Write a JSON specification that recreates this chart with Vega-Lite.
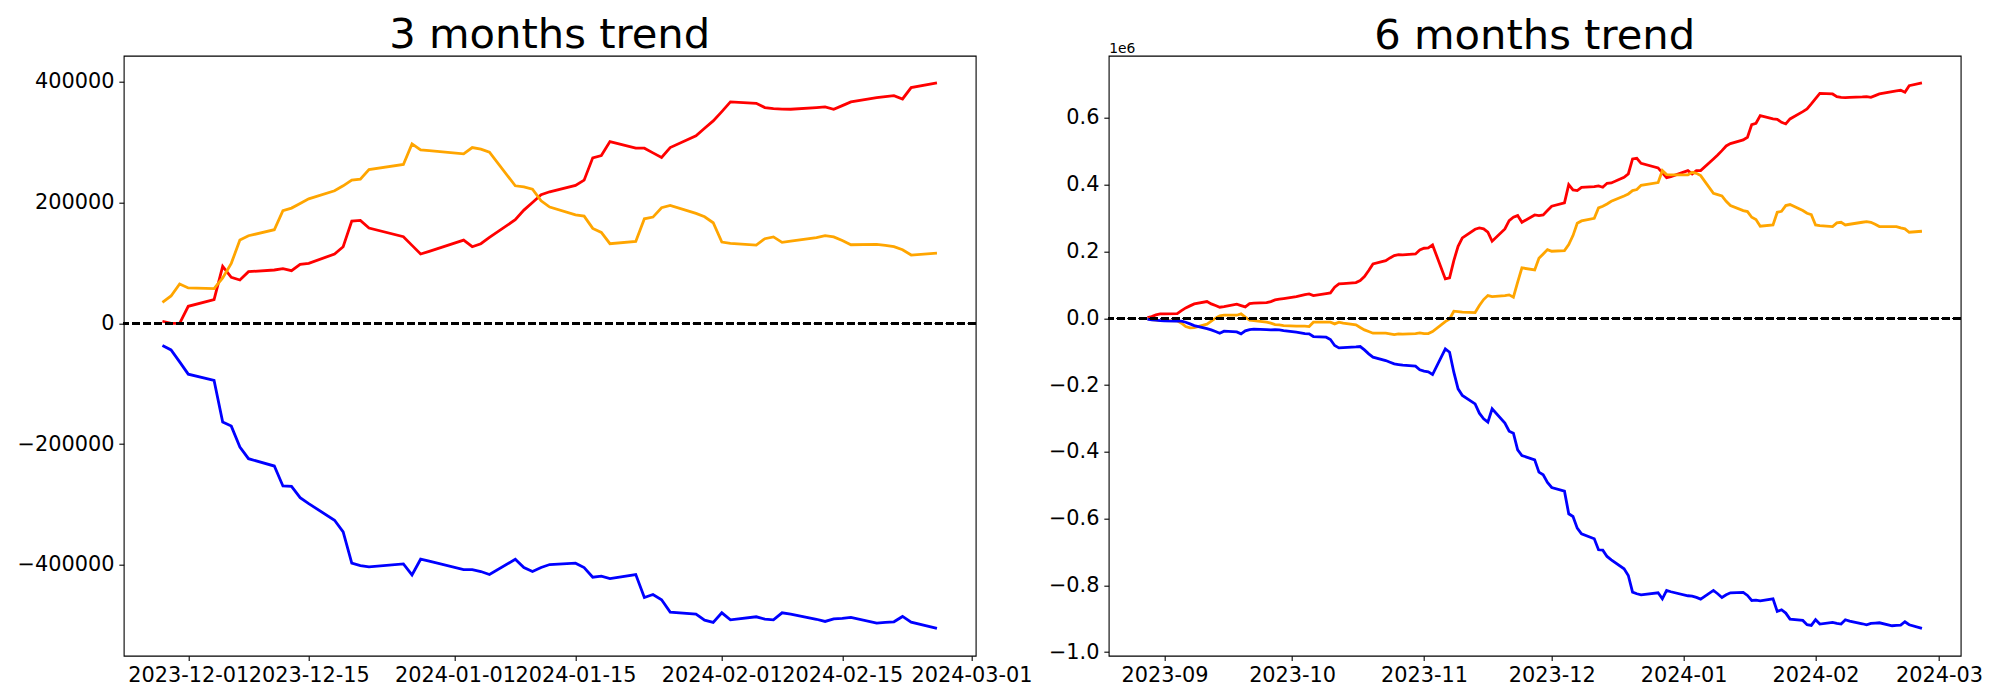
{
  "$schema": "https://vega.github.io/schema/vega-lite/v6.json",
  "autosize": {"type": "pad"},
  "padding": {"left": 15.7, "top": 13.7, "right": 20, "bottom": 5},
  "background": "white",
  "bounds": "flush",
  "spacing": 133,
  "config": {
    "font": "DejaVu Sans",
    "view": {"stroke": "black", "strokeWidth": 1.1},
    "axis": {"grid": false, "domain": false, "tickColor": "black", "tickSize": 4.86, "tickWidth": 1.1, "labelFont": "DejaVu Sans", "labelFontSize": 20.83, "labelColor": "black", "labelPadding": 4.86, "labelOverlap": false, "labelBound": false, "labelFlush": false},
    "title": {"font": "DejaVu Sans", "fontSize": 41.67, "fontWeight": "normal", "color": "black", "baseline": "alphabetic", "anchor": "middle"}
  },
  "datasets": {
    "three_months": [
      {"date": "2023-11-28", "red": 3360, "orange": 34760, "blue": -36860},
      {"date": "2023-11-29", "red": 0, "orange": 45230, "blue": -44020},
      {"date": "2023-11-30", "red": 0, "orange": 65070, "blue": -63860},
      {"date": "2023-12-01", "red": 28150, "orange": 58460, "blue": -84240},
      {"date": "2023-12-04", "red": 39170, "orange": 57360, "blue": -94710},
      {"date": "2023-12-05", "red": 94270, "orange": 74990, "blue": -163580},
      {"date": "2023-12-06", "red": 76090, "orange": 99230, "blue": -170200},
      {"date": "2023-12-07", "red": 71680, "orange": 137800, "blue": -204910},
      {"date": "2023-12-08", "red": 85450, "orange": 144960, "blue": -224190},
      {"date": "2023-12-11", "red": 88210, "orange": 154880, "blue": -236320},
      {"date": "2023-12-12", "red": 90410, "orange": 186280, "blue": -269370},
      {"date": "2023-12-13", "red": 87110, "orange": 190690, "blue": -269920},
      {"date": "2023-12-14", "red": 97580, "orange": 198400, "blue": -288650},
      {"date": "2023-12-15", "red": 99230, "orange": 206110, "blue": -298570},
      {"date": "2023-12-18", "red": 114660, "orange": 219340, "blue": -326110},
      {"date": "2023-12-19", "red": 126780, "orange": 227610, "blue": -345410},
      {"date": "2023-12-20", "red": 169200, "orange": 236980, "blue": -397190},
      {"date": "2023-12-21", "red": 170300, "orange": 238630, "blue": -401050},
      {"date": "2023-12-22", "red": 157630, "orange": 254600, "blue": -403250},
      {"date": "2023-12-26", "red": 143310, "orange": 262860, "blue": -398300},
      {"date": "2023-12-27", "red": 128980, "orange": 297020, "blue": -416470},
      {"date": "2023-12-28", "red": 114660, "orange": 287110, "blue": -390580},
      {"date": "2023-12-29", "red": 119060, "orange": 286000, "blue": -393890},
      {"date": "2024-01-02", "red": 137800, "orange": 280500, "blue": -407660},
      {"date": "2024-01-03", "red": 126780, "orange": 290960, "blue": -407660},
      {"date": "2024-01-04", "red": 131740, "orange": 288210, "blue": -410960},
      {"date": "2024-01-05", "red": 142200, "orange": 283260, "blue": -415920},
      {"date": "2024-01-08", "red": 171400, "orange": 227610, "blue": -390580},
      {"date": "2024-01-09", "red": 187390, "orange": 225950, "blue": -404350},
      {"date": "2024-01-10", "red": 200050, "orange": 222100, "blue": -410960},
      {"date": "2024-01-11", "red": 212730, "orange": 202810, "blue": -404350},
      {"date": "2024-01-12", "red": 217690, "orange": 192350, "blue": -399390},
      {"date": "2024-01-15", "red": 228150, "orange": 179670, "blue": -397190},
      {"date": "2024-01-16", "red": 236980, "orange": 177470, "blue": -404350},
      {"date": "2024-01-17", "red": 273890, "orange": 157080, "blue": -420340},
      {"date": "2024-01-18", "red": 277740, "orange": 150460, "blue": -418680},
      {"date": "2024-01-19", "red": 300880, "orange": 131740, "blue": -422530},
      {"date": "2024-01-22", "red": 289870, "orange": 135590, "blue": -415920},
      {"date": "2024-01-23", "red": 289870, "orange": 173060, "blue": -453940},
      {"date": "2024-01-24", "red": 282150, "orange": 175820, "blue": -448980},
      {"date": "2024-01-25", "red": 274430, "orange": 191240, "blue": -457800},
      {"date": "2024-01-26", "red": 290960, "orange": 195090, "blue": -478190},
      {"date": "2024-01-29", "red": 310250, "orange": 181870, "blue": -481490},
      {"date": "2024-01-30", "red": 322920, "orange": 176360, "blue": -491410},
      {"date": "2024-01-31", "red": 335040, "orange": 166450, "blue": -495260},
      {"date": "2024-02-01", "red": 350460, "orange": 134500, "blue": -479290},
      {"date": "2024-02-02", "red": 366450, "orange": 132280, "blue": -490860},
      {"date": "2024-02-05", "red": 364250, "orange": 129540, "blue": -485900},
      {"date": "2024-02-06", "red": 357080, "orange": 140000, "blue": -489760},
      {"date": "2024-02-07", "red": 355420, "orange": 143000, "blue": -490860},
      {"date": "2024-02-08", "red": 354500, "orange": 134000, "blue": -479290},
      {"date": "2024-02-09", "red": 354330, "orange": 136000, "blue": -481490},
      {"date": "2024-02-12", "red": 357000, "orange": 142000, "blue": -490000},
      {"date": "2024-02-13", "red": 358180, "orange": 145000, "blue": -493610},
      {"date": "2024-02-14", "red": 354330, "orange": 143000, "blue": -489260},
      {"date": "2024-02-15", "red": 360380, "orange": 137000, "blue": -488650},
      {"date": "2024-02-16", "red": 366450, "orange": 130000, "blue": -486990},
      {"date": "2024-02-19", "red": 373610, "orange": 130630, "blue": -496360},
      {"date": "2024-02-20", "red": 375260, "orange": 128980, "blue": -495260},
      {"date": "2024-02-21", "red": 376910, "orange": 126780, "blue": -494160},
      {"date": "2024-02-22", "red": 371400, "orange": 121820, "blue": -485340},
      {"date": "2024-02-23", "red": 390140, "orange": 113010, "blue": -494710},
      {"date": "2024-02-26", "red": 397850, "orange": 116310, "blue": -505170}
    ],
    "six_months": [
      {"date": "2023-08-28", "red": 2000, "orange": -1900, "blue": -2890},
      {"date": "2023-08-29", "red": 5090, "orange": -3890, "blue": -4890},
      {"date": "2023-08-30", "red": 10090, "orange": -5890, "blue": -5890},
      {"date": "2023-08-31", "red": 13080, "orange": -6890, "blue": -6890},
      {"date": "2023-09-01", "red": 13080, "orange": -6890, "blue": -7880},
      {"date": "2023-09-04", "red": 14070, "orange": -7880, "blue": -8880},
      {"date": "2023-09-05", "red": 23050, "orange": -14870, "blue": -8880},
      {"date": "2023-09-06", "red": 31040, "orange": -24850, "blue": -11880},
      {"date": "2023-09-07", "red": 37030, "orange": -28840, "blue": -16870},
      {"date": "2023-09-08", "red": 43020, "orange": -27840, "blue": -21860},
      {"date": "2023-09-11", "red": 50000, "orange": -17860, "blue": -30840},
      {"date": "2023-09-12", "red": 43020, "orange": -8890, "blue": -34830},
      {"date": "2023-09-13", "red": 38020, "orange": 100, "blue": -39820},
      {"date": "2023-09-14", "red": 33030, "orange": 7090, "blue": -44810},
      {"date": "2023-09-15", "red": 35030, "orange": 9080, "blue": -38830},
      {"date": "2023-09-18", "red": 42010, "orange": 9080, "blue": -40820},
      {"date": "2023-09-19", "red": 38020, "orange": 13080, "blue": -46800},
      {"date": "2023-09-20", "red": 34040, "orange": 3090, "blue": -37820},
      {"date": "2023-09-21", "red": 44010, "orange": -5890, "blue": -33830},
      {"date": "2023-09-22", "red": 45000, "orange": -6890, "blue": -32840},
      {"date": "2023-09-25", "red": 47010, "orange": -11880, "blue": -33830},
      {"date": "2023-09-26", "red": 50000, "orange": -14870, "blue": -34830},
      {"date": "2023-09-27", "red": 55000, "orange": -18860, "blue": -33830},
      {"date": "2023-09-28", "red": 56980, "orange": -19860, "blue": -34830},
      {"date": "2023-09-29", "red": 58980, "orange": -21860, "blue": -36830},
      {"date": "2023-10-02", "red": 64970, "orange": -23860, "blue": -41820},
      {"date": "2023-10-03", "red": 67960, "orange": -23860, "blue": -43800},
      {"date": "2023-10-04", "red": 70960, "orange": -23860, "blue": -45810},
      {"date": "2023-10-05", "red": 72960, "orange": -24850, "blue": -46800},
      {"date": "2023-10-06", "red": 67960, "orange": -11880, "blue": -54790},
      {"date": "2023-10-09", "red": 73950, "orange": -11880, "blue": -56790},
      {"date": "2023-10-10", "red": 75960, "orange": -11880, "blue": -63770},
      {"date": "2023-10-11", "red": 92910, "orange": -16860, "blue": -81740},
      {"date": "2023-10-12", "red": 102900, "orange": -11880, "blue": -88710},
      {"date": "2023-10-13", "red": 103890, "orange": -14870, "blue": -87720},
      {"date": "2023-10-16", "red": 106890, "orange": -19860, "blue": -85720},
      {"date": "2023-10-17", "red": 112870, "orange": -27840, "blue": -84730},
      {"date": "2023-10-18", "red": 124850, "orange": -34830, "blue": -94700},
      {"date": "2023-10-19", "red": 142810, "orange": -39820, "blue": -106680},
      {"date": "2023-10-20", "red": 162780, "orange": -44810, "blue": -116680},
      {"date": "2023-10-23", "red": 172750, "orange": -44810, "blue": -126650},
      {"date": "2023-10-24", "red": 180750, "orange": -46800, "blue": -131650},
      {"date": "2023-10-25", "red": 187720, "orange": -48800, "blue": -136620},
      {"date": "2023-10-26", "red": 190720, "orange": -46800, "blue": -138620},
      {"date": "2023-10-27", "red": 189730, "orange": -47810, "blue": -140630},
      {"date": "2023-10-30", "red": 192720, "orange": -45810, "blue": -143620},
      {"date": "2023-10-31", "red": 204700, "orange": -43800, "blue": -154580},
      {"date": "2023-11-01", "red": 209670, "orange": -45810, "blue": -158590},
      {"date": "2023-11-02", "red": 210680, "orange": -45810, "blue": -160570},
      {"date": "2023-11-03", "red": 219670, "orange": -39820, "blue": -168560},
      {"date": "2023-11-06", "red": 117870, "orange": -9880, "blue": -91710},
      {"date": "2023-11-07", "red": 120870, "orange": -1890, "blue": -101700},
      {"date": "2023-11-08", "red": 172750, "orange": 21050, "blue": -161590},
      {"date": "2023-11-09", "red": 215660, "orange": 20060, "blue": -211470},
      {"date": "2023-11-10", "red": 240630, "orange": 18050, "blue": -231440},
      {"date": "2023-11-13", "red": 266560, "orange": 17070, "blue": -256380},
      {"date": "2023-11-14", "red": 270570, "orange": 38020, "blue": -284340},
      {"date": "2023-11-15", "red": 267580, "orange": 55990, "blue": -301290},
      {"date": "2023-11-16", "red": 257580, "orange": 67960, "blue": -311290},
      {"date": "2023-11-17", "red": 230630, "orange": 64970, "blue": -271350},
      {"date": "2023-11-20", "red": 267580, "orange": 67960, "blue": -314280},
      {"date": "2023-11-21", "red": 292510, "orange": 69960, "blue": -338230},
      {"date": "2023-11-22", "red": 302490, "orange": 62970, "blue": -344220},
      {"date": "2023-11-23", "red": 307480, "orange": 107880, "blue": -394110},
      {"date": "2023-11-24", "red": 287520, "orange": 150810, "blue": -411080},
      {"date": "2023-11-27", "red": 309490, "orange": 144820, "blue": -424040},
      {"date": "2023-11-28", "red": 307480, "orange": 179730, "blue": -460990},
      {"date": "2023-11-29", "red": 309490, "orange": 192720, "blue": -468950},
      {"date": "2023-11-30", "red": 322450, "orange": 205690, "blue": -491900},
      {"date": "2023-12-01", "red": 335420, "orange": 200690, "blue": -506900},
      {"date": "2023-12-04", "red": 345420, "orange": 202690, "blue": -517870},
      {"date": "2023-12-05", "red": 400300, "orange": 220660, "blue": -585720},
      {"date": "2023-12-06", "red": 384340, "orange": 247600, "blue": -593710},
      {"date": "2023-12-07", "red": 382330, "orange": 284520, "blue": -628650},
      {"date": "2023-12-08", "red": 392300, "orange": 291530, "blue": -645600},
      {"date": "2023-12-11", "red": 394300, "orange": 299490, "blue": -660570},
      {"date": "2023-12-12", "red": 396310, "orange": 330450, "blue": -693500},
      {"date": "2023-12-13", "red": 392300, "orange": 335420, "blue": -694500},
      {"date": "2023-12-14", "red": 404280, "orange": 342420, "blue": -713470},
      {"date": "2023-12-15", "red": 405300, "orange": 350390, "blue": -723440},
      {"date": "2023-12-18", "red": 422240, "orange": 366370, "blue": -750390},
      {"date": "2023-12-19", "red": 432240, "orange": 372360, "blue": -770360},
      {"date": "2023-12-20", "red": 477150, "orange": 382330, "blue": -820270},
      {"date": "2023-12-21", "red": 479130, "orange": 385330, "blue": -825240},
      {"date": "2023-12-22", "red": 464160, "orange": 398290, "blue": -828240},
      {"date": "2023-12-26", "red": 450210, "orange": 406290, "blue": -822250},
      {"date": "2023-12-27", "red": 435240, "orange": 442210, "blue": -840210},
      {"date": "2023-12-28", "red": 421260, "orange": 430240, "blue": -815270},
      {"date": "2023-12-29", "red": 424250, "orange": 429250, "blue": -819250},
      {"date": "2024-01-02", "red": 442210, "orange": 429250, "blue": -831230},
      {"date": "2024-01-03", "red": 432240, "orange": 437220, "blue": -832240},
      {"date": "2024-01-04", "red": 442210, "orange": 434220, "blue": -836230},
      {"date": "2024-01-05", "red": 442210, "orange": 427240, "blue": -841220},
      {"date": "2024-01-08", "red": 477150, "orange": 374340, "blue": -815270},
      {"date": "2024-01-09", "red": 489130, "orange": 370350, "blue": -825240},
      {"date": "2024-01-10", "red": 502100, "orange": 366370, "blue": -836230},
      {"date": "2024-01-11", "red": 516080, "orange": 350390, "blue": -828240},
      {"date": "2024-01-12", "red": 523050, "orange": 337420, "blue": -822250},
      {"date": "2024-01-15", "red": 534040, "orange": 322450, "blue": -821260},
      {"date": "2024-01-16", "red": 542000, "orange": 319460, "blue": -830240},
      {"date": "2024-01-17", "red": 579940, "orange": 302490, "blue": -845210},
      {"date": "2024-01-18", "red": 583920, "orange": 295510, "blue": -844220},
      {"date": "2024-01-19", "red": 606880, "orange": 275540, "blue": -846200},
      {"date": "2024-01-22", "red": 596910, "orange": 279540, "blue": -840210},
      {"date": "2024-01-23", "red": 595900, "orange": 317460, "blue": -878140},
      {"date": "2024-01-24", "red": 586910, "orange": 320450, "blue": -873150},
      {"date": "2024-01-25", "red": 581950, "orange": 337420, "blue": -883140},
      {"date": "2024-01-26", "red": 596910, "orange": 340420, "blue": -901100},
      {"date": "2024-01-29", "red": 618860, "orange": 322450, "blue": -905090},
      {"date": "2024-01-30", "red": 626850, "orange": 314460, "blue": -918050},
      {"date": "2024-01-31", "red": 641820, "orange": 310480, "blue": -920060},
      {"date": "2024-02-01", "red": 657780, "orange": 279540, "blue": -903080},
      {"date": "2024-02-02", "red": 673740, "orange": 277540, "blue": -916080},
      {"date": "2024-02-05", "red": 671760, "orange": 274550, "blue": -911070},
      {"date": "2024-02-06", "red": 663770, "orange": 285540, "blue": -914070},
      {"date": "2024-02-07", "red": 661770, "orange": 287520, "blue": -916080},
      {"date": "2024-02-08", "red": 660780, "orange": 279540, "blue": -903080},
      {"date": "2024-02-09", "red": 661770, "orange": 281530, "blue": -907090},
      {"date": "2024-02-12", "red": 662780, "orange": 287520, "blue": -915060},
      {"date": "2024-02-13", "red": 663770, "orange": 289520, "blue": -918050},
      {"date": "2024-02-14", "red": 661770, "orange": 287520, "blue": -914070},
      {"date": "2024-02-15", "red": 666770, "orange": 281530, "blue": -913080},
      {"date": "2024-02-16", "red": 671760, "orange": 274550, "blue": -912080},
      {"date": "2024-02-19", "red": 678740, "orange": 274550, "blue": -921050},
      {"date": "2024-02-20", "red": 680750, "orange": 274550, "blue": -920060},
      {"date": "2024-02-21", "red": 682740, "orange": 270570, "blue": -919070},
      {"date": "2024-02-22", "red": 676740, "orange": 267580, "blue": -909070},
      {"date": "2024-02-23", "red": 696710, "orange": 257580, "blue": -918050},
      {"date": "2024-02-26", "red": 704700, "orange": 260570, "blue": -929040}
    ]
  },
  "hconcat": [
    {
      "width": 852,
      "height": 600,
      "title": {"text": "3 months trend", "offset": -1.1},
      "data": {"name": "three_months"},
      "layer": [
        {
          "transform": [{"fold": ["red", "orange", "blue"], "as": ["series", "value"]}],
          "mark": {"type": "line", "strokeWidth": 2.8, "clip": true},
          "encoding": {
            "x": {
              "field": "date", "type": "temporal", "title": null,
              "scale": {"type": "utc", "domain": [{"year": 2023, "month": 11, "date": 23, "hours": 12, "utc": true}, {"year": 2024, "month": 3, "date": 1, "hours": 12, "utc": true}]},
              "axis": {"format": "%Y-%m-%d", "values": [
                {"year": 2023, "month": 12, "date": 1, "utc": true},
                {"year": 2023, "month": 12, "date": 15, "utc": true},
                {"year": 2024, "month": 1, "date": 1, "utc": true},
                {"year": 2024, "month": 1, "date": 15, "utc": true},
                {"year": 2024, "month": 2, "date": 1, "utc": true},
                {"year": 2024, "month": 2, "date": 15, "utc": true},
                {"year": 2024, "month": 3, "date": 1, "utc": true}
              ]}
            },
            "y": {
              "field": "value", "type": "quantitative", "title": null,
              "scale": {"domain": [-550300, 443000], "nice": false, "zero": false},
              "axis": {"values": [-400000, -200000, 0, 200000, 400000], "format": "d"}
            },
            "color": {"field": "series", "type": "nominal", "scale": {"domain": ["red", "orange", "blue"], "range": ["#ff0000", "#ffa500", "#0000ff"]}, "legend": null}
          }
        },
        {
          "mark": {"type": "rule", "color": "black", "strokeWidth": 2.08, "strokeDash": [7.7, 3.3]},
          "encoding": {"y": {"datum": 0}}
        }
      ]
    },
    {
      "width": 852,
      "height": 600,
      "title": {"text": "6 months trend", "offset": -16.3},
      "data": {"name": "six_months"},
      "layer": [
        {
          "transform": [{"fold": ["red", "orange", "blue"], "as": ["series", "value"]}],
          "mark": {"type": "line", "strokeWidth": 2.8, "clip": true},
          "encoding": {
            "x": {
              "field": "date", "type": "temporal", "title": null,
              "scale": {"type": "utc", "domain": [{"year": 2023, "month": 8, "date": 18, "hours": 21, "minutes": 36, "utc": true}, {"year": 2024, "month": 3, "date": 6, "hours": 2, "minutes": 24, "utc": true}]},
              "axis": {"format": "%Y-%m", "values": [
                {"year": 2023, "month": 9, "date": 1, "utc": true},
                {"year": 2023, "month": 10, "date": 1, "utc": true},
                {"year": 2023, "month": 11, "date": 1, "utc": true},
                {"year": 2023, "month": 12, "date": 1, "utc": true},
                {"year": 2024, "month": 1, "date": 1, "utc": true},
                {"year": 2024, "month": 2, "date": 1, "utc": true},
                {"year": 2024, "month": 3, "date": 1, "utc": true}
              ]}
            },
            "y": {
              "field": "value", "type": "quantitative",
              "scale": {"domain": [-1010700, 786400], "nice": false, "zero": false},
              "axis": {
                "values": [-1000000, -800000, -600000, -400000, -200000, 0, 200000, 400000, 600000],
                "labelExpr": "format(datum.value / 1000000, '.1f')",
                "title": "1e6", "titleAngle": 0, "titleAlign": "left", "titleBaseline": "alphabetic",
                "titleX": 0, "titleY": -3.3, "titleFontSize": 13.9, "titleFontWeight": "normal", "titleFont": "DejaVu Sans", "titleColor": "black"
              }
            },
            "color": {"field": "series", "type": "nominal", "scale": {"domain": ["red", "orange", "blue"], "range": ["#ff0000", "#ffa500", "#0000ff"]}, "legend": null}
          }
        },
        {
          "mark": {"type": "rule", "color": "black", "strokeWidth": 2.08, "strokeDash": [7.7, 3.3]},
          "encoding": {"y": {"datum": 0}}
        }
      ]
    }
  ]
}
